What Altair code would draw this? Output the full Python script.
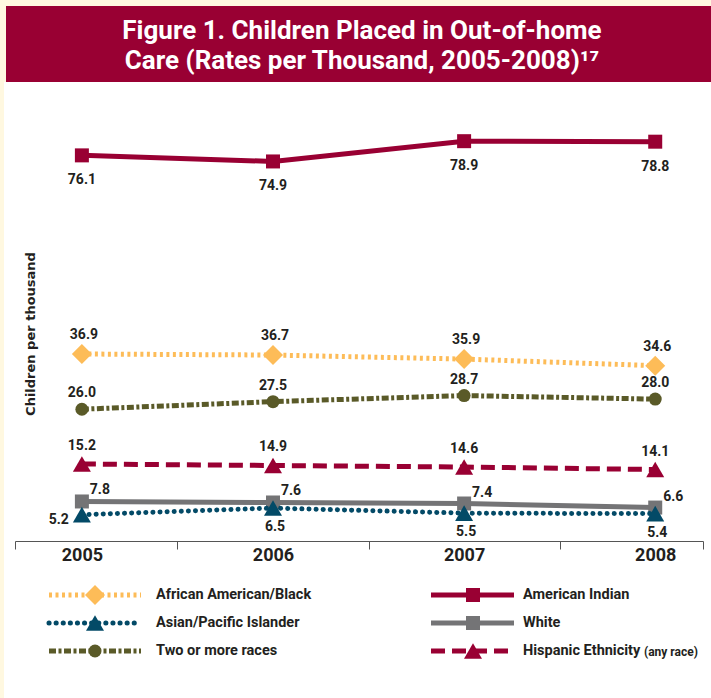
import altair as alt
import pandas as pd

# ---------------- data ----------------
YEARS = [2005, 2006, 2007, 2008]
SERIES = ["African American/Black", "American Indian", "Asian/Pacific Islander",
          "White", "Two or more races", "Hispanic Ethnicity"]
AFRICAN_AMERICAN = [36.9, 36.7, 35.9, 34.6]
AMERICAN_INDIAN = [76.1, 74.9, 78.9, 78.8]
ASIAN_PACIFIC = [5.2, 6.5, 5.5, 5.4]
WHITE = [7.8, 7.6, 7.4, 6.6]
TWO_OR_MORE = [26.0, 27.5, 28.7, 28.0]
HISPANIC = [15.2, 14.9, 14.6, 14.1]
TITLE_LINES = ["Figure 1. Children Placed in Out-of-home",
               "Care (Rates per Thousand, 2005-2008)\u00b9\u2077"]
Y_TITLE = "Children per thousand"
LEGEND_NOTE = "(any race)"

VALUES = [AFRICAN_AMERICAN, AMERICAN_INDIAN, ASIAN_PACIFIC, WHITE, TWO_OR_MORE, HISPANIC]
df = pd.DataFrame([{"series": s, "year": yr, "value": v}
                   for s, vals in zip(SERIES, VALUES)
                   for yr, v in zip(YEARS, vals)])
one = pd.DataFrame({"k": [0]})

# ---------------- layout ----------------
W, H = 711, 698
PL, PT, PR, PB = 15, 90, 8, 157
VW, VH = W - PL - PR, H - PT - PB

CREAM = "#FFF8E0"
RED = "#990033"
TEXT = "#231F20"
COND = "Roboto, Liberation Sans Narrow, sans-serif"

STYLE = {
    "African American/Black": dict(color="#FDBC58", dash=[3, 3.5], width=5, cap="butt", shape="diamond", size=400),
    "American Indian": dict(color=RED, dash=None, width=5, cap="butt", shape="square", size=196),
    "Asian/Pacific Islander": dict(color="#034A67", dash=[0.1, 7], width=5, cap="round", shape="triangle-up", size=324),
    "White": dict(color="#747476", dash=None, width=5, cap="butt", shape="square", size=196),
    "Two or more races": dict(color="#5A5A28", dash=[7, 2.5, 3, 2.5], width=5, cap="butt", shape="circle", size=169),
    "Hispanic Ethnicity": dict(color=RED, dash=[14, 7], width=5, cap="butt", shape="triangle-up", size=324),
}

# label placement per series: list of (year filter or None, dx, dy, align)
LABEL_POS = {
    "African American/Black": [(None, 2, -19, "center")],
    "American Indian": [(None, 0, 25, "center")],
    "Asian/Pacific Islander": [(2005, -13, 5, "right"), ("rest", 2, 19, "center")],
    "White": [(None, 18, -11, "center")],
    "Two or more races": [(None, 0, -16, "center")],
    "Hispanic Ethnicity": [(None, 0, -18, "center")],
}

DRAW_ORDER = ["African American/Black", "Two or more races", "Hispanic Ethnicity",
              "White", "Asian/Pacific Islander", "American Indian"]

X_AXIS = alt.Axis(
    values=[2004.65, 2005, 2005.5, 2006, 2006.5, 2007, 2007.5, 2008, 2008.25],
    labelExpr="datum.value % 1 == 0 ? format(datum.value, 'd') : ''",
    tickOpacity={"condition": {"test": "datum.value % 1 == 0", "value": 0}, "value": 1},
    title=None, grid=False, domainColor="#555555", tickColor="#555555",
    tickSize=8, domainWidth=1, tickWidth=1, zindex=1,
    labelFont=COND, labelFontSize=18, labelFontWeight="bold", labelColor=TEXT,
    labelPadding=-3, labelFlush=False, labelOverlap=False,
)
X = alt.X("year:Q", scale=alt.Scale(domain=[2004.65, 2008.25], nice=False, zero=False), axis=X_AXIS)
Y = alt.Y("value:Q", scale=alt.Scale(domain=[0, 89], nice=False, zero=False), axis=None)

layers = []

# white panel and title band (decoration)
layers.append(alt.Chart(one).mark_rect(color="white").encode(
    x=alt.value(4 - PL), x2=alt.value(W - PL), y=alt.value(82 - PT), y2=alt.value(H - PT)))
layers.append(alt.Chart(one).mark_rect(color=RED).encode(
    x=alt.value(6 - PL), x2=alt.value(W - PL), y=alt.value(6 - PT), y2=alt.value(82 - PT)))
for i, line in enumerate(TITLE_LINES):
    layers.append(alt.Chart(one).mark_text(
        text=line, font=COND, fontSize=26, fontWeight="bold", color="white",
        align="center", baseline="middle").encode(
        x=alt.value(362 - PL), y=alt.value([31, 61][i] - PT)))

# y title
layers.append(alt.Chart(one).mark_text(
    text=Y_TITLE, font="DejaVu Sans", fontSize=13, fontWeight="bold", color=TEXT,
    angle=270, align="center", baseline="middle").encode(
    x=alt.value(31 - PL), y=alt.value(334 - PT)))

# data lines + markers
for s in DRAW_ORDER:
    st = STYLE[s]
    base = alt.Chart(df).transform_filter(alt.datum.series == s)
    lkw = dict(color=st["color"], strokeWidth=st["width"], strokeCap=st["cap"])
    if st["dash"]:
        lkw["strokeDash"] = st["dash"]
    layers.append(base.mark_line(**lkw).encode(x=X, y=Y))
    layers.append(base.mark_point(shape=st["shape"], size=st["size"], filled=True,
                                  color=st["color"], opacity=1).encode(x=X, y=Y))

# data labels
for s in DRAW_ORDER:
    for flt, dx, dy, align in LABEL_POS[s]:
        base = alt.Chart(df).transform_filter(alt.datum.series == s)
        if flt == "rest":
            base = base.transform_filter(alt.datum.year != 2005)
        elif flt is not None:
            base = base.transform_filter(alt.datum.year == flt)
        layers.append(base.mark_text(
            dx=dx, dy=dy, align=align, baseline="middle", font=COND, fontSize=14,
            fontWeight="bold", color=TEXT).encode(
            x=X, y=Y, text=alt.Text("value:Q", format=".1f")))

# custom legend
LEG_POS = {"African American/Black": (0, 0), "Asian/Pacific Islander": (0, 1),
           "Two or more races": (0, 2), "American Indian": (1, 0),
           "White": (1, 1), "Hispanic Ethnicity": (1, 2)}
COLS = [dict(x0=49, x1=141, xm=95, xt=156), dict(x0=431, x1=514, xm=473, xt=523)]
ROWS = [595, 623, 651]
for s in SERIES:
    st = STYLE[s]
    c, r = LEG_POS[s]
    col, ry = COLS[c], ROWS[r]
    rkw = dict(color=st["color"], strokeWidth=st["width"], strokeCap=st["cap"])
    if st["dash"]:
        rkw["strokeDash"] = st["dash"]
    layers.append(alt.Chart(one).mark_rule(**rkw).encode(
        x=alt.value(col["x0"] - PL), x2=alt.value(col["x1"] - PL), y=alt.value(ry - PT)))
    layers.append(alt.Chart(one).mark_point(shape=st["shape"], size=st["size"], filled=True,
                                            color=st["color"], opacity=1).encode(
        x=alt.value(col["xm"] - PL), y=alt.value(ry - PT)))
    layers.append(alt.Chart(one).mark_text(
        text=s, font=COND, fontSize=14.5, fontWeight="bold", color=TEXT,
        align="left", baseline="middle").encode(
        x=alt.value(col["xt"] - PL), y=alt.value(ry - PT)))
layers.append(alt.Chart(one).mark_text(
    text=LEGEND_NOTE, font=COND, fontSize=12, fontWeight="bold", color=TEXT,
    align="left", baseline="middle").encode(
    x=alt.value(644 - PL), y=alt.value(ROWS[2] + 1 - PT)))

chart = alt.layer(*layers).properties(
    width=VW, height=VH,
    padding={"left": PL, "top": PT, "right": PR, "bottom": PB},
    autosize=alt.AutoSizeParams(type="none"),
    background=CREAM,
).configure_view(stroke=None)

chart.save("out.html", embed_options={"renderer": "svg", "actions": False})
